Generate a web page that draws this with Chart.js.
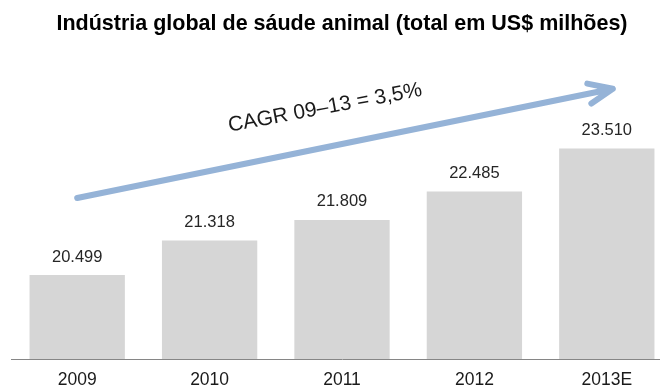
<!DOCTYPE html>
<html>
<head>
<meta charset="utf-8">
<script src="https://cdn.jsdelivr.net/npm/chart.js@4"></script>
<style>
  html, body { margin: 0; padding: 0; background: #fff; overflow: hidden; }
  #wrap { width: 660px; height: 388px; overflow: hidden; }
</style>
</head>
<body>
<div id="wrap"><canvas id="chart" width="673" height="388"></canvas></div>
<script>
// dados
const anos = ['2009', '2010', '2011', '2012', '2013E'];
const totais = [20499, 21318, 21809, 22485, 23510];
const titulo = 'Indústria global de sáude animal (total em US$ milhões)';
const cagrTexto = 'CAGR 09\u201313 = 3,5%';

const fonte = '"Liberation Sans", Arial, sans-serif';

// 20499 -> "20.499"
function formatar(v) {
    return String(v).replace(/\B(?=(\d{3})+(?!\d))/g, '.');
}

// rótulos de valor em cima das barras
const rotulosPlugin = {
    id: 'rotulos',
    afterDatasetsDraw(chart) {
        const ctx = chart.ctx;
        const meta = chart.getDatasetMeta(0);
        ctx.save();
        ctx.font = '16.5px ' + fonte;
        ctx.fillStyle = '#262626';
        ctx.textAlign = 'center';
        ctx.textBaseline = 'middle';
        meta.data.forEach((bar, i) => {
            ctx.fillText(formatar(totais[i]), bar.x, bar.y - 18);
        });
        ctx.restore();
    }
};

// seta do CAGR
const setaPlugin = {
    id: 'seta',
    afterDatasetsDraw(chart) {
        const ctx = chart.ctx;
        const x = chart.scales.x, y = chart.scales.y;
        const x0 = x.getPixelForValue(0), y0 = y.getPixelForValue(22330);
        const x1 = x.getPixelForValue(4) + 6, y1 = y.getPixelForValue(24930);
        const ang = Math.atan2(y1 - y0, x1 - x0);
        ctx.save();
        ctx.strokeStyle = '#95b3d7';
        ctx.lineWidth = 6;
        ctx.lineCap = 'round';
        ctx.lineJoin = 'round';
        ctx.beginPath();
        ctx.moveTo(x0, y0);
        ctx.lineTo(x1, y1);
        const L = 26, a = 0.4;
        ctx.moveTo(x1 - L * Math.cos(ang - a), y1 - L * Math.sin(ang - a));
        ctx.lineTo(x1, y1);
        ctx.lineTo(x1 - L * Math.cos(ang + a), y1 - L * Math.sin(ang + a));
        ctx.stroke();

        ctx.translate(325, 108);
        ctx.rotate(-0.185);
        ctx.font = '21px ' + fonte;
        ctx.fillStyle = '#1a1a1a';
        ctx.textAlign = 'center';
        ctx.textBaseline = 'middle';
        ctx.fillText(cagrTexto, 0, 0);
        ctx.restore();
    }
};

new Chart(document.getElementById('chart'), {
    type: 'bar',
    data: {
        labels: anos,
        datasets: [{
            data: totais,
            backgroundColor: '#d6d6d6',
            borderWidth: 0,
            barPercentage: 0.72,
            categoryPercentage: 1
        }]
    },
    options: {
        responsive: false,
        animation: false,
        layout: { padding: { left: 11, right: 0, top: 0, bottom: 0 } },
        plugins: {
            legend: { display: false },
            tooltip: { enabled: false },
            title: {
                display: true,
                text: titulo,
                color: '#000',
                font: { family: fonte, size: 21.5, weight: 'bold', lineHeight: 1.2 },
                padding: { top: 11, bottom: 28 }
            }
        },
        scales: {
            x: {
                grid: { display: false },
                border: { display: true, color: '#868686', width: 1 },
                ticks: { color: '#1a1a1a', font: { family: fonte, size: 17.5 }, padding: 3 },
                afterFit(scale) { scale.height = 29; }
            },
            y: {
                display: false,
                min: 18500,
                max: 25500
            }
        }
    },
    plugins: [rotulosPlugin, setaPlugin]
});
</script>
</body>
</html>
